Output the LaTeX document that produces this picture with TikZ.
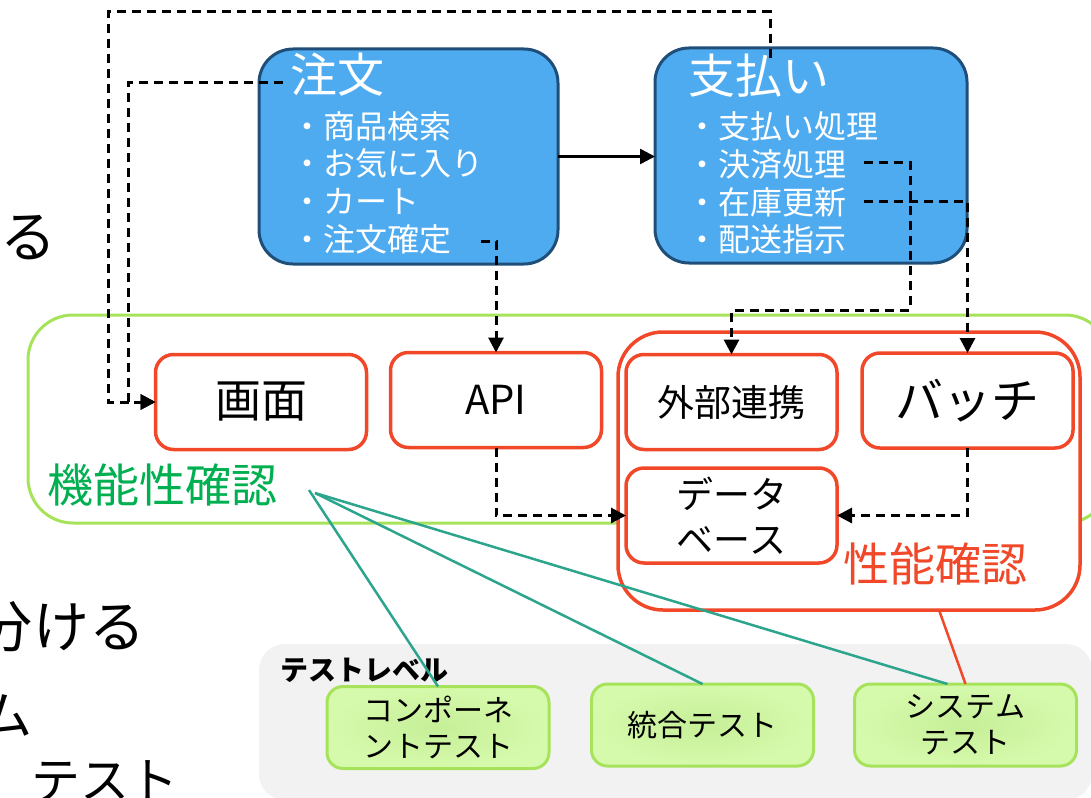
\documentclass[tikz,border=0pt]{standalone}
\usepackage{fontspec}
\setmainfont{Noto Sans CJK JP}
\usetikzlibrary{arrows.meta,calc}
\definecolor{boxblue}{HTML}{4FABF0}
\definecolor{bluedark}{HTML}{1F4E79}
\definecolor{redc}{HTML}{F04828}
\definecolor{lgreen}{HTML}{A6E35A}
\definecolor{fgreen}{HTML}{00B050}
\definecolor{tealc}{HTML}{2CA58C}
\definecolor{grayc}{HTML}{F2F2F2}
\definecolor{gcenter}{HTML}{C6EF98}
\definecolor{gedge}{HTML}{D6FAAC}
\begin{document}
\begin{tikzpicture}[x=1pt,y=-1pt,
  every node/.style={inner sep=0pt,outer sep=0pt},
  bluebox/.style={draw=bluedark,fill=boxblue,line width=3pt,rounded corners=34pt},
  ttl/.style={anchor=west,text=white,font=\fontsize{47}{52}\selectfont},
  itm/.style={anchor=west,text=white,font=\fontsize{32}{36}\selectfont},
  redbox/.style={draw=redc,fill=white,line width=3.5pt,rounded corners=18pt,minimum width=211pt,minimum height=95pt,align=center},
  testbox/.style={draw=lgreen,line width=3pt,rounded corners=16pt,minimum width=222pt,minimum height=82pt,inner color=gcenter,outer color=gedge,align=center,font=\fontsize{30}{35.5}\selectfont},
  dashc/.style={draw=black,line width=3pt,dash pattern=on 9pt off 6pt},
  tip/.style={-{Triangle[length=15pt,width=15pt]}},
  tealline/.style={draw=tealc,line width=2.5pt},
  bigtxt/.style={anchor=west,font=\fontsize{56}{62}\selectfont}
]
\useasboundingbox (0,0) rectangle (1091,797);
\clip (0,0) rectangle (1091,797);

% cut-off slide text at the left
\node[bigtxt] (t1) at (0,238) {る};
\node[bigtxt] (t2) at (-23,627) {分ける};
\node[bigtxt,font=\fontsize{52}{58}\selectfont] (t3) at (-19,715) {ム};
\node[bigtxt,font=\fontsize{49}{54}\selectfont] (t4) at (31,781) {テスト};

% functional group
\node[draw=lgreen,line width=3pt,rounded corners=45pt,minimum width=1082pt,minimum height=208pt] (func) at (569,419) {};
% performance group
\node[draw=redc,fill=white,line width=3.5pt,rounded corners=45pt,minimum width=462pt,minimum height=278pt] (perf) at (849,471) {};

\node[redbox,font=\fontsize{46}{50}\selectfont] (screen) at (261,402) {画面};
\node[redbox,font=\fontsize{40}{44}\selectfont] (api) at (496,400) {API};
\node[redbox,font=\fontsize{37}{42}\selectfont] (ext) at (731.5,402) {外部連携};
\node[redbox,font=\fontsize{48}{52}\selectfont] (batch) at (967.5,400.5) {バッチ};
\node[redbox,font=\fontsize{37}{45}\selectfont] (db) at (731.5,515.5) {データ\\ベース};

\node[anchor=west,text=fgreen,font=\fontsize{46}{50}\selectfont] (funcL) at (47,485) {機能性確認};
\node[anchor=west,text=redc,font=\fontsize{46}{50}\selectfont] (perfL) at (843,564) {性能確認};

% blue boxes
\node[bluebox,minimum width=299pt,minimum height=215pt] (order) at (408.5,156.5) {};
\node[bluebox,minimum width=312pt,minimum height=215pt] (pay) at (811,155.5) {};
\node[ttl] (oT) at (290,75) {注文};
\node[itm] (o1) at (291,126) {・商品検索};
\node[itm] (o2) at (291,163) {・お気に入り};
\node[itm] (o3) at (291,201) {・カート};
\node[itm] (o4) at (291,239) {・注文確定};
\node[ttl] (pT) at (688,76) {支払い};
\node[itm] (p1) at (686,126) {・支払い処理};
\node[itm] (p2) at (686,164) {・決済処理};
\node[itm] (p3) at (686,202) {・在庫更新};
\node[itm] (p4) at (686,239) {・配送指示};

% test levels
\node[fill=grayc,rounded corners=26pt,minimum width=833pt,minimum height=156pt] (lvl) at (675.5,722) {};
\node[anchor=west,font=\bfseries\fontsize{28}{32}\selectfont] (lvlL) at (280,670) {テストレベル};
\node[testbox] (comp) at (438,727.5) {コンポーネ\\ントテスト};
\node[testbox] (integ) at (702.5,725) {統合テスト};
\node[testbox,font=\fontsize{30}{36}\selectfont] (sys) at (965.5,725) {システム\\テスト};

% connectors
\coordinate (payT) at (770,58);
\coordinate (topR) at (770,12);
\coordinate (topL) at (108,12);
\coordinate (ordL) at (283,83);
\coordinate (ordLc) at (128,83);
\coordinate (extTurn) at (910,310);
\draw[dashc,tip] (payT) -- (topR) -- (topL) |- (screen.west);
\draw[dashc,tip] (ordL) -- (ordLc) |- (screen.west);
\draw[dashc,tip] ($(o4.east)+(30,2)$) -| (api.north);
\draw[dashc,tip] (api.south) |- (db.west);
\draw[dashc,tip] ($(p2.east)+(18,-2)$) -| (extTurn) -| (ext.north);
\draw[dashc,tip] ($(p3.east)+(18,-1)$) -| (batch.north);
\draw[dashc,tip] (batch.south) |- (db.east);
\draw[line width=2.5pt,tip] (order.east) -- (order.east -| pay.west);

\coordinate (fs1) at (309,490);
\coordinate (fs2) at (315,493);
\draw[tealline] (fs1) -- (comp.north);
\draw[tealline] (fs2) -- (integ.north);
\draw[tealline] (fs2) -- ([xshift=-18pt]sys.north);
\draw[draw=redc,line width=2.5pt] ([xshift=90pt]perf.south) -- (sys.north);
\end{tikzpicture}
\end{document}
